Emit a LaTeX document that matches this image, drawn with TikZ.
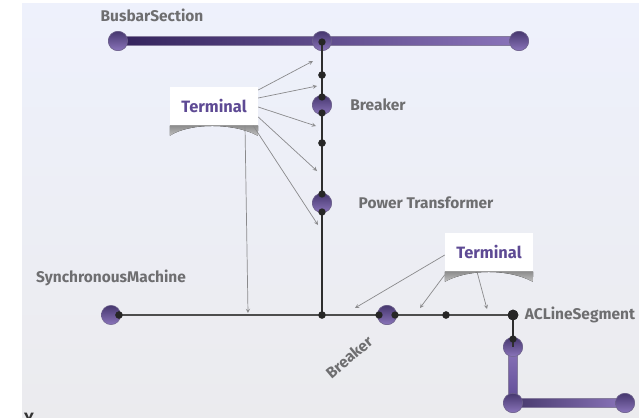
\documentclass[tikz,border=0pt]{standalone}
\usepackage{fontspec}
\setmainfont{Fira Sans}
\usetikzlibrary{calc}
\definecolor{panelTop}{HTML}{EEF1FC}
\definecolor{panelBottom}{HTML}{EBEBEE}
\definecolor{plum}{HTML}{5E4A94}
\definecolor{plumdark}{HTML}{33235C}
\definecolor{plumlight}{HTML}{8A74BA}
\definecolor{wire}{HTML}{2E2E2E}
\definecolor{caption}{HTML}{6E6E70}
\definecolor{pointer}{HTML}{8A8A8C}

\tikzset{
  ball/.style={circle,inner sep=0pt,minimum size=0.58cm,draw=plumdark!70,thin,top color=plum!75!black,bottom color=plumlight},
  dot/.style={circle,fill=black!85,inner sep=0pt,minimum size=0.22cm},
  wireline/.style={wire,line width=1.5pt},
  pointerline/.style={pointer,line width=0.6pt,-stealth},
  lbl/.style={font=\bfseries\fontsize{13.2}{15}\selectfont,text=caption},
  terminal/.style={fill=white,inner sep=0pt,minimum width=2.64cm,minimum height=1.17cm,font=\bfseries\fontsize{14}{16}\selectfont,text=plum},
  termshadow/.style={top color=black!50,bottom color=black!25,draw=none}
}

\begin{document}
\begin{tikzpicture}[x=0.03cm,y=-0.03cm]
      \useasboundingbox (0,0) rectangle (639,418);
      \shade[top color=panelTop,bottom color=panelBottom] (22,3) rectangle (639,418);

      % main junctions
      \node[ball] (busW) at (118,41) {};
      \node[ball] (busM) at (322,41) {};
      \node[ball] (busE) at (519,41) {};
      \node[ball] (brkV) at (322,105) {};
      \node[ball] (trafo) at (322,203) {};
      \node[ball] (machine) at (111,315) {};
      \node[ball] (brkH) at (387,315) {};
      \node[ball] (lineA) at (513,347) {};
      \node[ball] (lineB) at (513,403) {};
      \node[ball] (lineC) at (625,403) {};
      \node[dot] (dotMachine) at (119,315) {};
      \node[dot] (dotJoin) at (322,315) {};
      \node[dot] (dotLine) at (446,315) {};
      \node[dot,minimum size=0.32cm] (dotSeg) at (513,315) {};
      \node[dot] (dotBus) at (322,42) {};
      \node[dot] (dotA) at (322,75) {};
      \node[dot] (dotB) at (322,143) {};

      \shade[left color=plumdark,right color=plumlight,draw=plumdark!60]
        ($(busW.center)+(0,-4.5)$) rectangle ($(busE.center)+(0,4.5)$);
      \shade[top color=plumlight,bottom color=plum,draw=plumdark!60]
        ($(lineA.center)+(-4.5,0)$) rectangle ($(lineB.center)+(4.5,0)$);
      \shade[left color=plumdark!90,right color=plumlight,draw=plumdark!60]
        ($(lineB.center)+(0,-4.5)$) rectangle ($(lineC.center)+(0,4.5)$);

      \node[ball] at (busW) {};
      \node[ball] at (busM) {};
      \node[ball] at (busE) {};
      \node[ball] at (lineA) {};
      \node[ball] at (lineB) {};
      \node[ball] at (lineC) {};

      \draw[wireline] (busM.center) -- (dotJoin.center);
      \draw[wireline,wire!85] (dotMachine.center) -- (dotSeg.center);
      \draw[wireline] (dotSeg.center) -- (lineA.center);

      \node[ball] at (brkV) {};
      \node[ball] at (trafo) {};
      \node[ball] at (brkH) {};
      \foreach \name/\dx/\dy in {brkV/0/-8,brkV/0/8,trafo/0/-9,trafo/0/9,brkH/-8/0,brkH/8/0,lineA/0/-8}
        \node[dot] at ($(\name.center)+(\dx,\dy)$) {};
      \node[dot] at (dotMachine) {};
      \node[dot] at (dotJoin) {};
      \node[dot] at (dotLine) {};
      \node[dot,minimum size=0.32cm] at (dotSeg) {};
      \node[dot] at (dotBus) {};
      \node[dot] at (dotA) {};
      \node[dot] at (dotB) {};

      % labels
      \node[lbl] (lblBus) at (152,15) {BusbarSection};
      \node[lbl] (lblBrkV) at (378,105) {Breaker};
      \node[lbl] (lblTrafo) at (426,203) {Power Transformer};
      \node[lbl] (lblMachine) at (111,278) {SynchronousMachine};
      \node[lbl] (lblSeg) at (580,315) {ACLineSegment};
      \node[lbl,rotate=40] (lblBrkH) at (349,357) {Breaker};

      % terminal boxes
      \node[terminal] (termA) at (214,106) {Terminal};
      \node[terminal] (termB) at (489,252) {Terminal};
      \fill[termshadow] (termA.south west) -- ++(0,10) .. controls +(20,-13) and +(-24,-13) .. ++(88,0) -- (termA.south east) -- cycle;
      \fill[termshadow] (termB.south west) -- ++(0,10) .. controls +(24,-13) and +(-24,-13) .. ++(88,0) -- (termB.south east) -- cycle;
      \coordinate (tipA) at (313,61);
      \coordinate (tipB) at (317,86);
      \coordinate (tipC) at (316,126);
      \coordinate (tipD) at (317,171);
      \coordinate (tipE) at (318,225);
      \coordinate (tipF) at (248,313);
      \coordinate (tipG) at (355,308);
      \coordinate (tipH) at (420,308);
      \coordinate (tipI) at (487,309);
      \draw[pointerline] ($(termA.east)+(0,-16)$) -- (tipA);
      \draw[pointerline] ($(termA.east)+(0,-8)$) -- (tipB);
      \draw[pointerline] ($(termA.east)+(0,1)$) -- (tipC);
      \draw[pointerline] ($(termA.east)+(0,11)$) -- (tipD);
      \draw[pointerline] ($(termA.south east)+(-5,0)$) -- (tipE);
      \draw[pointerline] ($(termA.south)+(31,0)$) -- (tipF);
      \draw[pointerline] ($(termB.west)+(0,3)$) -- (tipG);
      \draw[pointerline] ($(termB.south west)+(0,3)$) -- (tipH);
      \draw[pointerline] ($(termB.south)+(-12,0)$) -- (tipI);

      \begin{scope}
        \clip (0,0) rectangle (639,418);
        \node[font=\bfseries\fontsize{14}{16}\selectfont,text=black!80,anchor=north] (cutY) at (29,409) {Y};
      \end{scope}
\end{tikzpicture}
\end{document}
